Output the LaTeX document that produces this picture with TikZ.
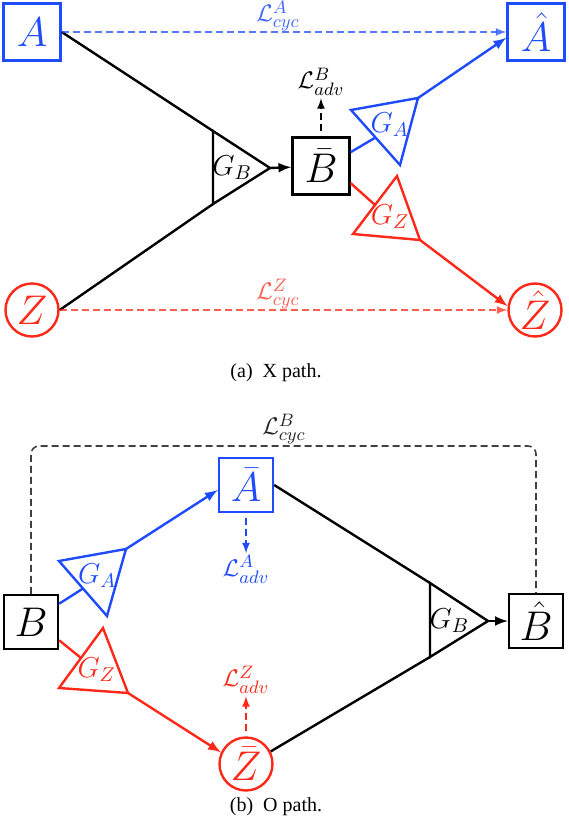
\documentclass[tikz,border=0pt]{standalone}
\usepackage[no-math]{fontspec}
\setmainfont{Liberation Serif}
\usetikzlibrary{arrows}
\usetikzlibrary{positioning}
\definecolor{gblue}{RGB}{30,75,255}
\definecolor{gred}{RGB}{255,40,25}
\tikzstyle{box} = [rectangle, draw=black, line width=1.2pt, minimum width=28.5pt, minimum height=28.5pt, inner sep=0pt, font=\fontsize{20}{24}\selectfont]
\tikzstyle{boxb} = [box, minimum width=27pt, minimum height=27pt]
\tikzstyle{blob} = [circle, draw=black, line width=1.2pt, minimum size=26.5pt, inner sep=0pt, font=\fontsize{20}{24}\selectfont]
\tikzstyle{net} = [line width=1.2pt]
\tikzstyle{flow} = [line width=1.2pt, -latex]
\tikzstyle{cyc} = [dash pattern=on 3.5pt off 2pt, line width=0.8pt, opacity=0.75]
\tikzstyle{adv} = [dash pattern=on 3.5pt off 2pt, line width=0.8pt, -latex]
\tikzstyle{lbl} = [font=\fontsize{13}{15}\selectfont, inner sep=1pt]
\tikzstyle{gname} = [font=\fontsize{14.5}{17}\selectfont, inner sep=1pt]
\tikzstyle{caption} = [font=\fontsize{10}{12}\selectfont]

\begin{document}
\begin{tikzpicture}[x=0.5pt, y=-0.5pt]
\useasboundingbox (0,0) rectangle (568,830);

% (a) X path
\node (A) [box, draw=gblue, text=gblue] at (32,32) {$A$};
\node (Ahat) [box, draw=gblue, text=gblue] at (536,32) {$\hat{A}$};
\node (Z) [blob, draw=gred, text=gred] at (32,310) {$Z$};
\node (Zhat) [blob, draw=gred, text=gred] at (535,310) {$\hat{Z}$};
\node (Bbar) [box] at (321,166) {$\bar{B}$};

\coordinate (gbT) at (213,131);
\coordinate (gbB) at (213,204);
\coordinate (gbP) at (270,168);
\draw[net] (gbT) -- (gbP) -- (gbB) -- cycle;
\node (GB) [gname] at (barycentric cs:gbT=1,gbB=1,gbP=1) {$G_B$};
\draw[net] (A.east) -- (gbT);
\draw[net] (Z.east) -- (gbB);
\draw[flow] (gbP) -- (Bbar);

\coordinate (gaL) at (351,110);
\coordinate (gaR) at (400,165);
\coordinate (gaP) at (418,98);
\draw[net, gblue] (gaL) -- (gaP) -- (gaR) -- cycle;
\node (GA) [gname, gblue] at (barycentric cs:gaL=1,gaR=1,gaP=1) {$G_A$};
\draw[net, gblue] (Bbar.25) -- (barycentric cs:gaL=1,gaR=1);
\draw[flow, gblue] (gaP) -- (Ahat.191);

\coordinate (gzT) at (397,176);
\coordinate (gzL) at (353,234);
\coordinate (gzP) at (420,240);
\draw[net, gred] (gzT) -- (gzP) -- (gzL) -- cycle;
\node (GZ) [gname, gred] at (barycentric cs:gzT=1,gzL=1,gzP=1) {$G_Z$};
\draw[net, gred] (Bbar.-30) -- (barycentric cs:gzT=1,gzL=1);
\draw[flow, gred] (gzP) -- (Zhat.172);

\node (advB) [lbl, above=19pt of Bbar] {$\mathcal{L}^{B}_{adv}$};
\draw[adv, shorten <=2.5pt] (Bbar) -- (advB);

\draw[cyc, gblue, -latex] (A.east) -- (Ahat.west);
\node (cycA) [lbl, gblue, opacity=0.85] at (278,16) {$\mathcal{L}^{A}_{cyc}$};
\draw[cyc, gred, -latex] (Z) -- (Zhat);
\node (cycZ) [lbl, gred, opacity=0.75] at (278,294) {$\mathcal{L}^{Z}_{cyc}$};

\node (capA) [caption] at (276,373) {(a)\enspace X path.};

% (b) O path
\node (B) [boxb] at (31,622) {$B$};
\node (Abar) [boxb, draw=gblue, text=gblue] at (246,485) {$\bar{A}$};
\node (Zbar) [blob, draw=gred, text=gred] at (246,764) {$\bar{Z}$};
\node (Bhat) [boxb] at (536,621) {$\hat{B}$};

\coordinate (gaL2) at (59,561);
\coordinate (gaR2) at (107,616);
\coordinate (gaP2) at (126,549);
\draw[net, gblue] (gaL2) -- (gaP2) -- (gaR2) -- cycle;
\node (GA2) [gname, gblue] at (barycentric cs:gaL2=1,gaR2=1,gaP2=1) {$G_A$};
\draw[net, gblue] (B.33) -- (barycentric cs:gaL2=1,gaR2=1);
\draw[flow, gblue] (gaP2) -- (Abar.190);

\coordinate (gzT2) at (103,628);
\coordinate (gzL2) at (59,688);
\coordinate (gzP2) at (128,693);
\draw[net, gred] (gzT2) -- (gzP2) -- (gzL2) -- cycle;
\node (GZ2) [gname, gred] at (barycentric cs:gzT2=1,gzL2=1,gzP2=1) {$G_Z$};
\draw[net, gred] (B.-33) -- (barycentric cs:gzT2=1,gzL2=1);
\draw[flow, gred] (gzP2) -- (Zbar.155);

\coordinate (gbT2) at (430,583);
\coordinate (gbB2) at (430,657);
\coordinate (gbP2) at (488,621);
\draw[net] (gbT2) -- (gbP2) -- (gbB2) -- cycle;
\node (GB2) [gname] at (barycentric cs:gbT2=1,gbB2=1,gbP2=1) {$G_B$};
\draw[net] (Abar.east) -- (gbT2);
\draw[net] (Zbar.27) -- (gbB2);
\draw[flow] (gbP2) -- (Bhat);

\node (advA) [lbl, gblue, below=20pt of Abar] {$\mathcal{L}^{A}_{adv}$};
\draw[adv, gblue, shorten <=2.5pt] (Abar) -- (advA);
\node (advZ) [lbl, gred, above=20pt of Zbar] {$\mathcal{L}^{Z}_{adv}$};
\draw[adv, gred, shorten <=2.5pt] (Zbar) -- (advZ);

\coordinate (cycTop) at (284,446);
\draw[cyc, rounded corners=4pt] (B.north) |- (cycTop) -| (Bhat.north);
\node (cycB) [lbl, opacity=0.85] at (284,429) {$\mathcal{L}^{B}_{cyc}$};

\node (capB) [caption] at (276,807) {(b)\enspace O path.};
\end{tikzpicture}
\end{document}
